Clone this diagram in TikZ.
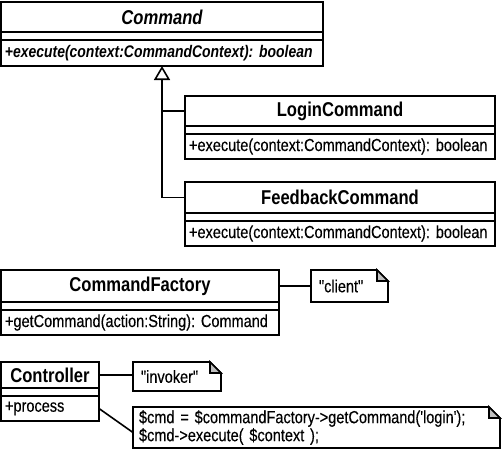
\documentclass[tikz,border=0pt]{standalone}
\usepackage{fontspec}
\setmainfont{Liberation Sans}[FakeStretch=0.83, WordSpace=0.85, Ligatures=TeXOff, UprightFeatures={FakeBold=0.3}]
\usetikzlibrary{calc,arrows.meta}
\tikzset{
  umlline/.style={line width=1.6pt, draw=black},
  cname/.style={umlline, draw, anchor=north west, inner sep=0pt, outer sep=0pt, font=\fontsize{20}{22}\selectfont\bfseries},
  cempty/.style={umlline, draw, anchor=north west, inner sep=0pt, outer sep=0pt, minimum height=8pt},
  cmeth/.style={umlline, draw, anchor=north west, inner xsep=4pt, inner ysep=0pt, outer sep=0pt, align=left, font=\fontsize{17.5}{18}\selectfont},
  notebox/.style={anchor=north west, inner xsep=8pt, inner ysep=0pt, outer sep=0pt, align=left, font=\fontsize{17.5}{18}\selectfont},
  conn/.style={umlline},
}
% #1 name #2 x #3 y #4 w #5 h1 #6 h3 #7 title #8 method #9 text width
\newcommand\umlclass[9]{%
  \node[cname, minimum width=#4pt, minimum height=#5pt] (#1n) at (#2,#3) {#7};
  \node[cempty, minimum width=#4pt] (#1e) at (#1n.south west) {};
  \node[cmeth, text width=#9pt, minimum height=#6pt] (#1m) at (#1e.south west) {#8};
}
\newcommand\dognote[1]{%
  \draw[umlline, line join=miter] (#1.north west) -- ($(#1.north east)+(-11,0)$) -- ($(#1.north east)+(0,11)$) -- (#1.south east) -- (#1.south west) -- cycle;
  \draw[umlline, fill=black!25, line join=miter] ($(#1.north east)+(-11,0)$) -- ($(#1.north east)+(-11,11)$) -- ($(#1.north east)+(0,11)$) -- cycle;
}
\frenchspacing
\begin{document}
\begin{tikzpicture}[x=1pt,y=-1pt]
\useasboundingbox (0,0) rectangle (502,460);
\umlclass{cmd}{1}{2}{322}{30}{26}{\itshape Command}{\fontsize{16.8}{18}\selectfont\bfseries\itshape +execute(context:CommandContext): boolean}{314}
\umlclass{login}{185}{96}{310}{30}{25}{LoginCommand}{+execute(context:CommandContext): boolean}{302}
\umlclass{feed}{185}{182}{310}{31}{25}{FeedbackCommand}{+execute(context:CommandContext): boolean}{302}
\umlclass{fact}{1}{270}{278}{32}{25}{CommandFactory}{+getCommand(action:String): Command}{270}
\umlclass{ctrl}{1}{362}{98}{26}{25}{Controller}{+process}{90}

\node[notebox, minimum width=77pt, minimum height=32pt, text width=61pt] (client) at (311,270) {"client"};
\node[notebox, minimum width=88pt, minimum height=29pt, text width=72pt] (invoker) at (133,362) {"invoker"};
\node[notebox, minimum width=367pt, minimum height=41pt, text width=355pt, inner xsep=6pt] (code) at (133,407) {\$cmd = \$commandFactory->getCommand('login');\\\$cmd->execute( \$context );};
\dognote{client}
\dognote{invoker}
\dognote{code}

\draw[conn, -{Triangle[open, length=14pt, width=16pt, line width=1.6pt]}] (feedn.west) -| (cmdm.south);
\draw[conn] (loginn.west) -- (loginn.west -| cmdm.south);
\draw[conn] (factn.east) -- (client.west);
\draw[conn] (ctrln.east) -- (ctrln.east -| invoker.west);
\draw[conn] (ctrlm.east) -- ($(code.west)+(0,5)$);
\end{tikzpicture}
\end{document}
